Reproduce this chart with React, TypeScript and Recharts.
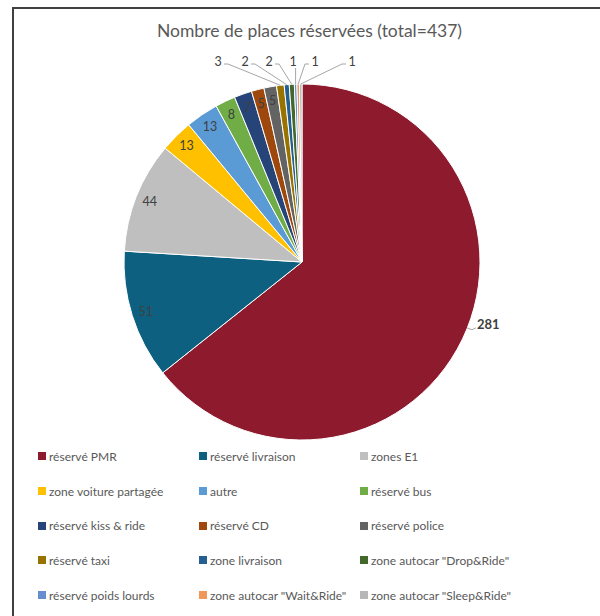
import React from 'react';
import { PieChart, Pie, Cell } from 'recharts';

const categories = [
  'réservé PMR',
  'réservé livraison',
  'zones E1',
  'zone voiture partagée',
  'autre',
  'réservé bus',
  'réservé kiss & ride',
  'réservé CD',
  'réservé police',
  'réservé taxi',
  'zone livraison',
  'zone autocar "Drop&Ride"',
  'réservé poids lourds',
  'zone autocar "Wait&Ride"',
  'zone autocar "Sleep&Ride"'
];

const counts = [281, 51, 44, 13, 13, 8, 7, 5, 5, 3, 2, 2, 1, 1, 1];

const colors = [
  '#8E1A2E', '#0E6080', '#BFBFBF', '#FFC000', '#5B9BD5',
  '#70AD47', '#264478', '#9E480E', '#636363', '#997300',
  '#255E91', '#43682B', '#698ED0', '#F1975A', '#B7B7B7'
];

const total = counts.reduce((a, b) => a + b, 0);
const data = categories.map((name, i) => ({ name, value: counts[i] }));

const FONT = 'Lato, "Open Sans", sans-serif';
const RAD = Math.PI / 180;
// horizontal spread of the little labels above the pie (offset from centre x)
const smallLabelDx = [-84, -57, -33, -9, 13, 50];

const renderLabel = (props: any) => {
  const { cx, cy, midAngle, outerRadius, index, value } = props;
  const pt = (ang: number, r: number) => ({
    x: cx + r * Math.cos(-ang * RAD),
    y: cy + r * Math.sin(-ang * RAD)
  });

  if (index === 0) {
    const a = midAngle + 4;
    const e = pt(a, outerRadius);
    const p = pt(a, outerRadius + 5);
    return (
      <g key={`lbl-${index}`}>
        <polyline points={`${e.x},${e.y} ${p.x},${p.y} ${p.x + 4},${p.y - 2}`} fill="none" stroke="#A6A6A6" strokeWidth={1} />
        <text x={p.x + 5} y={p.y - 6} fill="#404040" fontSize={13} fontWeight={700} fontFamily={FONT} dominantBaseline="central">
          {value}
        </text>
      </g>
    );
  }

  if (index < 9) {
    const p = pt(midAngle, outerRadius * 0.92);
    return (
      <text key={`lbl-${index}`} x={p.x} y={p.y} fill="#404040" fontSize={12.5} fontFamily={FONT} textAnchor="middle" dominantBaseline="central">
        {value}
      </text>
    );
  }

  const e = pt(midAngle, outerRadius);
  const lx = cx + smallLabelDx[index - 9];
  const ly = cy - outerRadius - 23;
  let pts: string;
  if (Math.abs(lx - e.x) < 6) {
    pts = `${e.x},${ly + 7} ${e.x},${e.y}`;
  } else if (lx < e.x) {
    pts = `${lx + 6},${ly + 3} ${lx + 10},${ly + 3} ${e.x},${e.y}`;
  } else {
    pts = `${lx - 6},${ly + 3} ${lx - 10},${ly + 3} ${e.x},${e.y}`;
  }
  return (
    <g key={`lbl-${index}`}>
      <polyline points={pts} fill="none" stroke="#A6A6A6" strokeWidth={1} />
      <text x={lx} y={ly} fill="#404040" fontSize={12.5} fontFamily={FONT} textAnchor="middle" dominantBaseline="central">
        {value}
      </text>
    </g>
  );
};

export default function App() {
  return (
    <div style={{ position: 'fixed', left: 0, top: 0, width: 600, height: 616, overflow: 'hidden', background: '#fff' }}>
      <div style={{ position: 'absolute', left: 12, top: 7, width: 640, height: 660, border: '2px solid #404040' }} />
      <div
        style={{
          position: 'absolute', left: 0, top: 19, width: 619, textAlign: 'center',
          fontFamily: FONT, fontSize: 17.5, color: '#595959', lineHeight: '24px'
        }}
      >
        Nombre de places réservées (total={total})
      </div>
      <div style={{ position: 'absolute', left: 0, top: 0 }}>
        <PieChart width={600} height={450} margin={{ top: 0, right: 0, bottom: 0, left: 0 }}>
          <Pie
            data={data}
            dataKey="value"
            nameKey="name"
            cx={302}
            cy={262}
            outerRadius={178}
            startAngle={90}
            endAngle={-270}
            stroke="#fff"
            strokeWidth={1}
            label={renderLabel}
            labelLine={false}
            isAnimationActive={false}
          >
            {data.map((d, i) => (
              <Cell key={d.name} fill={colors[i]} />
            ))}
          </Pie>
        </PieChart>
      </div>
      <div
        style={{
          position: 'absolute', left: 38, top: 439, display: 'grid',
          gridTemplateColumns: '161px 161px 200px', gridAutoRows: '34.7px',
          fontFamily: FONT, fontSize: 12, color: '#595959'
        }}
      >
        {categories.map((name, i) => (
          <div key={name} style={{ display: 'flex', alignItems: 'center', whiteSpace: 'nowrap' }}>
            <span style={{ width: 8, height: 8, background: colors[i], marginRight: 3, flex: 'none' }} />
            {name}
          </div>
        ))}
      </div>
    </div>
  );
}
